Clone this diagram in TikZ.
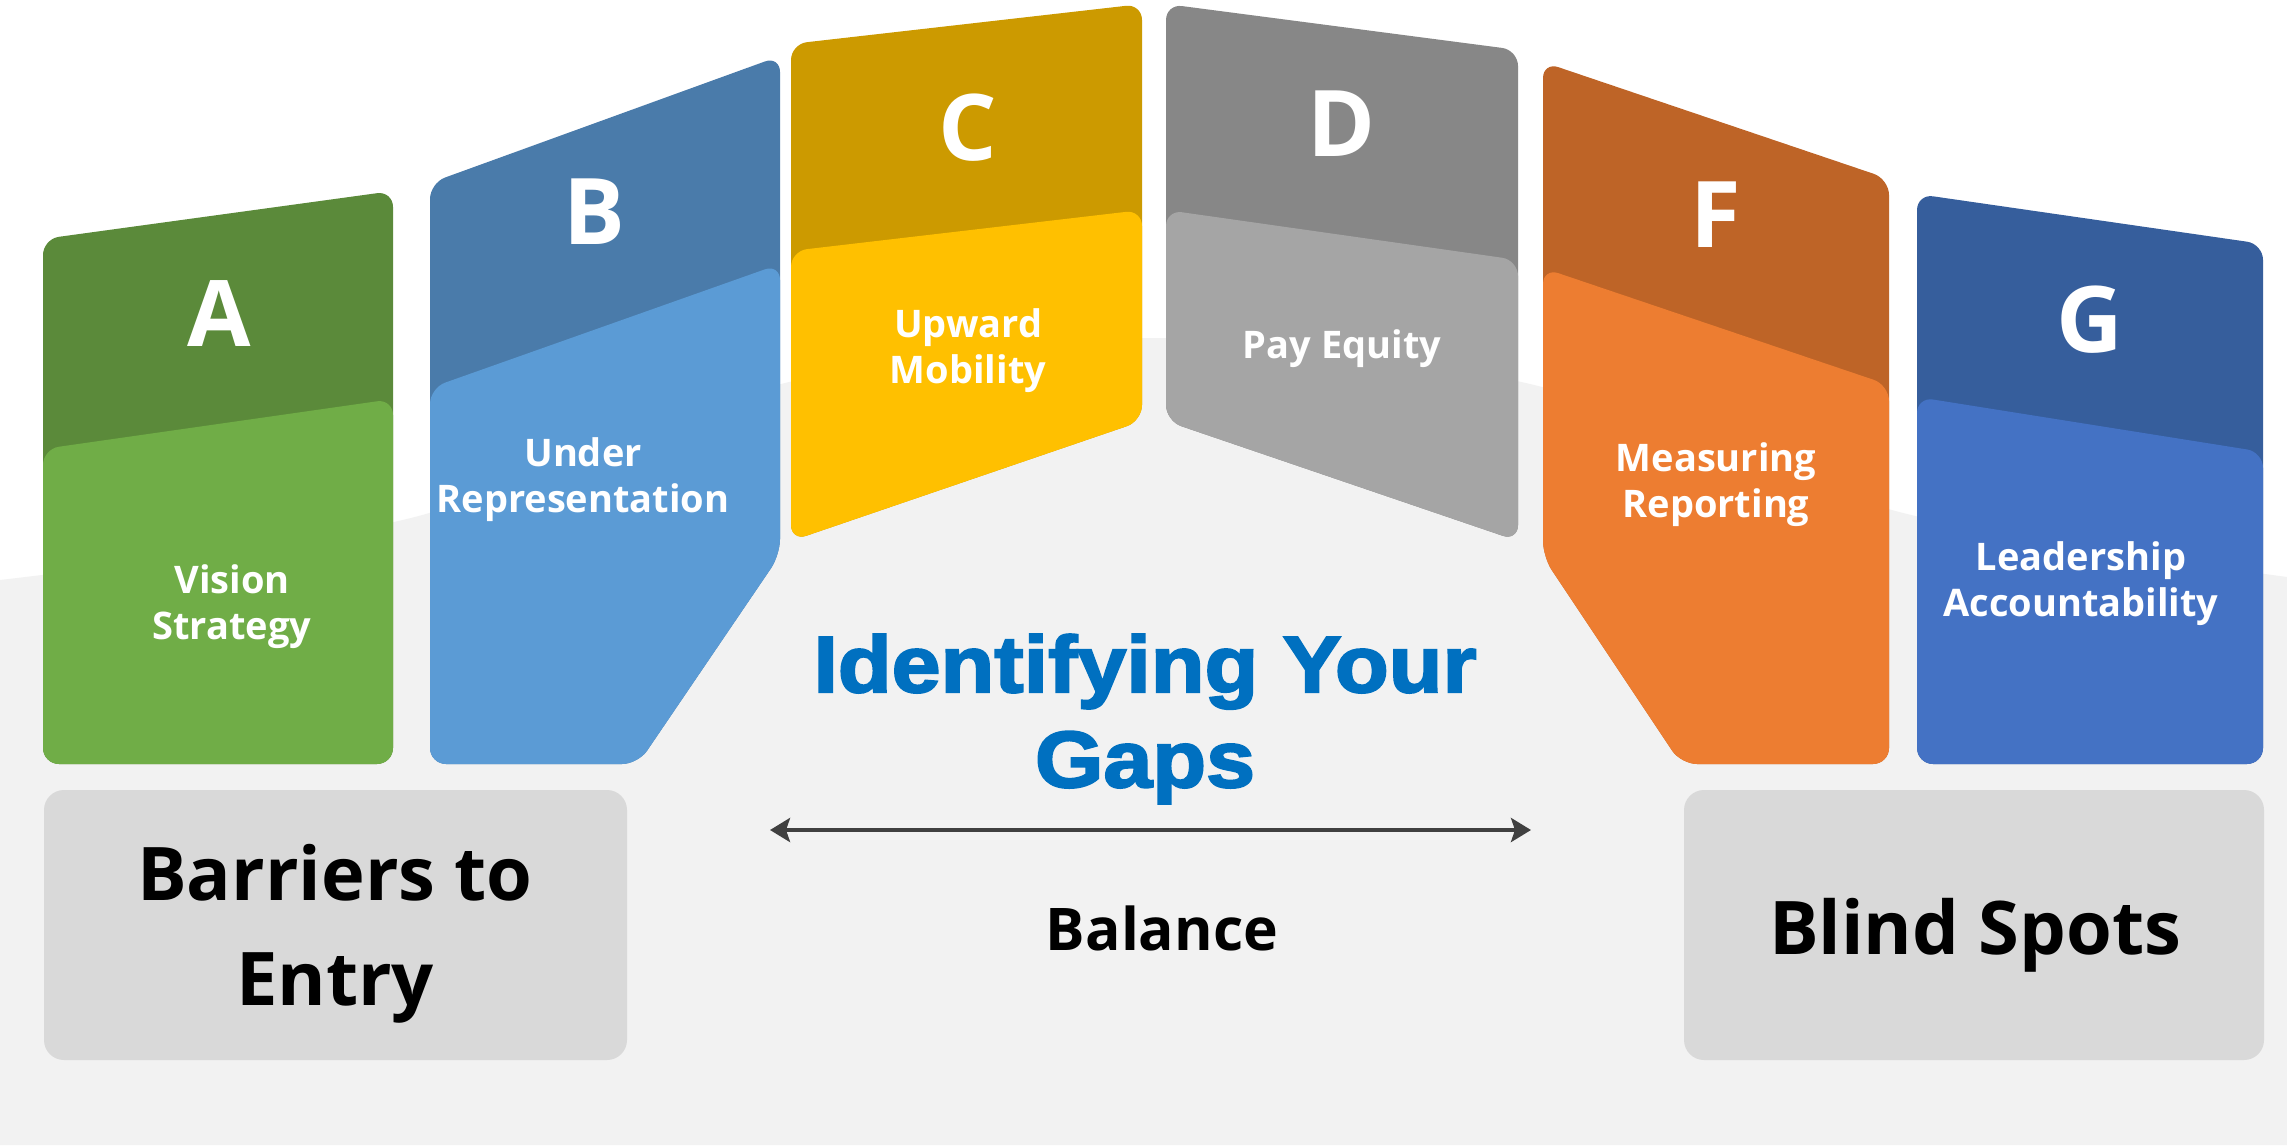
\documentclass[tikz,border=0pt]{standalone}
\usepackage{fontspec}
\setmainfont{Open Sans}
\newfontfamily\gapsfont{Liberation Sans}[FakeBold=2.6,FakeStretch=1.1]
\usepackage{tikz}
\usetikzlibrary{arrows.meta}

% panel colours: top band / lower band
\definecolor{aTop}{HTML}{5B8A3A}
\definecolor{aLow}{HTML}{70AD47}
\definecolor{bTop}{HTML}{4A7BAA}
\definecolor{bLow}{HTML}{5B9BD5}
\definecolor{cTop}{HTML}{CC9A00}
\definecolor{cLow}{HTML}{FFC000}
\definecolor{dTop}{HTML}{878787}
\definecolor{dLow}{HTML}{A5A5A5}
\definecolor{fTop}{HTML}{BE6427}
\definecolor{fLow}{HTML}{ED7D31}
\definecolor{gTop}{HTML}{365E9C}
\definecolor{gLow}{HTML}{4472C4}
\definecolor{groundGray}{HTML}{F2F2F2}
\definecolor{boxGray}{HTML}{D9D9D9}
\definecolor{gapsBlue}{HTML}{0070C0}
\definecolor{arrowGray}{HTML}{404040}

\begin{document}
\begin{tikzpicture}[x=0.25pt,y=0.25pt,yscale=-1,
  panel/.style={rounded corners=4pt},
  letter/.style={text=white,inner sep=0pt,font=\fontsize{23}{27}\selectfont\bfseries},
  caption/.style={text=white,inner sep=0pt,align=center,font=\fontsize{9.5}{11.5}\selectfont\bfseries},
  gapbox/.style={fill=boxGray,rounded corners=5pt},
  boxtext/.style={inner sep=0pt,align=center,font=\fontsize{18.5}{26.25}\selectfont\bfseries},
  balancearrow/.style={draw=arrowGray,line width=1.2pt,{Stealth[length=5pt,width=6pt,inset=1pt]}-{Stealth[length=5pt,width=6pt,inset=1pt]}}]
\useasboundingbox (0,0) rectangle (2287,1145);

%Shape: background
\fill[white] (0,0) rectangle (2287,1145);
\fill[groundGray] plot[smooth] coordinates {(0,580) (411,518) (785,383) (1153,338) (1530,384) (1903,513) (2287,577)} -- (2287,1145) -- (0,1145) -- cycle;

%Shape: Panel A
\fill[panel,aTop] (43,764) -- (43,239) -- (393,191) -- (393,764) -- cycle;
\fill[panel,aLow] (43,764) -- (43,449) -- (393,399) -- (393,764) -- cycle;
%Shape: Panel B
\fill[panel,bTop] (430,764) -- (430,183) -- (780,56) -- (780,555) -- (638,764) -- cycle;
\fill[panel,bLow] (430,764) -- (430,388) -- (780,264) -- (780,555) -- (638,764) -- cycle;
%Shape: Panel C
\fill[panel,cTop] (791,541) -- (791,44) -- (1142,4) -- (1142,421) -- cycle;
\fill[panel,cLow] (791,541) -- (791,251) -- (1142,210) -- (1142,421) -- cycle;
%Shape: Panel D
\fill[panel,dTop] (1166,421) -- (1166,4) -- (1518,50) -- (1518,541) -- cycle;
\fill[panel,dLow] (1166,421) -- (1166,210) -- (1518,260) -- (1518,541) -- cycle;
%Shape: Panel F
\fill[panel,fTop] (1681,764) -- (1543,557) -- (1543,62) -- (1889,179) -- (1889,764) -- cycle;
\fill[panel,fLow] (1681,764) -- (1543,557) -- (1543,268) -- (1889,385) -- (1889,764) -- cycle;
%Shape: Panel G
\fill[panel,gTop] (1917,764) -- (1917,194) -- (2263,244) -- (2263,764) -- cycle;
\fill[panel,gLow] (1917,764) -- (1917,397) -- (2263,452) -- (2263,764) -- cycle;

% Text Node
\node[letter] (letA) at (219,314) {A};
\node[letter] (letB) at (594,212) {B};
\node[letter] (letC) at (968,128) {C};
\node[letter] (letD) at (1342,124) {D};
\node[letter] (letF) at (1716,215) {F};
\node[letter] (letG) at (2090,320) {G};

% Text Node
\node[caption] (capA) at (232,607) {Vision\\Strategy};
\node[caption] (capB) at (583,480) {Under\\Representation};
\node[caption] (capC) at (968,351) {Upward\\Mobility};
\node[caption] (capD) at (1342,349) {Pay Equity};
\node[caption] (capF) at (1716,485) {Measuring\\Reporting};
\node[caption] (capG) at (2081,584) {Leadership\\Accountability};

%Shape: Rectangle
\fill[gapbox] (44,790) rectangle (627,1060);
\fill[gapbox] (1684,790) rectangle (2264,1060);
% Text Node
\node[boxtext] (barriers) at (335,934) {Barriers to\\Entry};
\node[boxtext] (blind) at (1975,935) {Blind Spots};

% Text Node
\node[inner sep=0pt,align=center,text=gapsBlue,font=\fontsize{20}{23.75}\selectfont\gapsfont\bfseries] (gaps) at (1145,719) {Identifying Your\\Gaps};

%Straight Lines
\coordinate (balL) at (770,830);
\coordinate (balR) at (1531,830);
\draw[balancearrow] (balL) -- (balR);
% Text Node
\node[inner sep=0pt,font=\fontsize{14.7}{17}\selectfont\bfseries] (balance) at (1162,928) {Balance};

\end{tikzpicture}
\end{document}
